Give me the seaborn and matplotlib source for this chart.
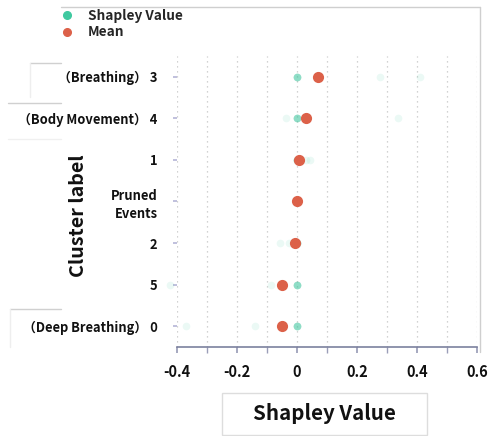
import numpy as np
import pandas as pd
import matplotlib
matplotlib.use("Agg")
import matplotlib.pyplot as plt
from matplotlib.lines import Line2D
from matplotlib.patches import Rectangle
from matplotlib.ticker import MultipleLocator
import seaborn as sns

# ===============================
# Data
# ===============================
cluster_labels = ['（Breathing） 3', '（Body Movement） 4', '1', 'Pruned\nEvents',
                  '2', '5', '（Deep Breathing） 0']

# individual Shapley values per cluster (10 samples each, most exactly 0)
shap_3 = [0.275, 0.41, 0, 0, 0, 0, 0, 0, 0, 0]
shap_4 = [-0.036, 0.335, 0, 0, 0, 0, 0, 0, 0, 0]
shap_1 = [0.03, 0.042, 0, 0, 0, 0, 0, 0, 0, 0]
shap_pruned = [0, 0, 0, 0, 0, 0, 0, 0, 0, 0]
shap_2 = [-0.057, -0.025, 0, 0, 0, 0, 0, 0, 0, 0]
shap_5 = [-0.423, -0.087, 0, 0, 0, 0, 0, 0, 0, 0]
shap_0 = [-0.37, -0.14, 0, 0, 0, 0, 0, 0, 0, 0]

shap_lists = [shap_3, shap_4, shap_1, shap_pruned, shap_2, shap_5, shap_0]

xticks = [-0.4, -0.2, 0, 0.2, 0.4, 0.6]
xtick_labels = ['-0.4', '-0.2', '0', '0.2', '0.4', '0.6']

rows = []
for lab, vals in zip(cluster_labels, shap_lists):
    for v in vals:
        rows.append({'cluster': lab, 'shap': v})
df = pd.DataFrame(rows)

teal = '#3fc9a0'
red = '#dc6149'
fonts = ['Noto Sans CJK JP', 'DejaVu Sans']

sns.set_theme(style='white')
plt.rcParams['font.family'] = fonts

fig = plt.figure(figsize=(4.94, 4.36), dpi=100)
ax = fig.add_axes([0.358, 0.204, 0.608, 0.668])

sns.stripplot(data=df, x='shap', y='cluster', order=cluster_labels, jitter=False,
              color=teal, alpha=0.1, size=5.5, linewidth=0, ax=ax, zorder=3)
for c in ax.collections:
    c.set_clip_on(False)

sns.pointplot(data=df, x='shap', y='cluster', order=cluster_labels, estimator='mean',
              errorbar=None, linestyle='none', color=red, markers='o',
              markersize=6, ax=ax, zorder=4)

ax.set_xlim(-0.4, 0.6)
ax.set_ylim(6.5, -0.5)
ax.xaxis.set_minor_locator(MultipleLocator(0.1))
ax.set_xticks(xticks)
ax.set_xticklabels(xtick_labels)
ax.grid(True, axis='x', which='both', color='#c4c4c4', linestyle=(0, (1, 3)), linewidth=0.9)
ax.set_axisbelow(True)

for s in ['left', 'top', 'right']:
    ax.spines[s].set_visible(False)
ax.spines['bottom'].set_color('#7c819e')
ax.spines['bottom'].set_linewidth(1.2)

ax.tick_params(axis='x', which='major', bottom=True, length=4, color='#9a9eb8', labelsize=10.5, pad=8)
ax.tick_params(axis='x', which='minor', bottom=True, length=4, color='#9a9eb8')
ax.tick_params(axis='y', left=True, length=3, color='#b8b8d8', labelsize=9.3, pad=11)
for t in ax.get_xticklabels() + ax.get_yticklabels():
    t.set_fontweight('bold')
    t.set_color('#111111')
for t in ax.get_yticklabels():
    t.set_linespacing(1.4)

ax.set_xlabel('')
ax.set_ylabel('')
fig.text(0.657, 0.052, 'Shapley Value', ha='center', va='center', fontsize=14.8,
         fontweight='bold', color='#111111')
fig.text(0.158, 0.505, 'Cluster label', ha='center', va='center', rotation=90,
         fontsize=14.2, fontweight='bold', color='#111111')

# legend
handles = [Line2D([], [], marker='o', linestyle='none', color=teal, markersize=5.5),
           Line2D([], [], marker='o', linestyle='none', color=red, markersize=5.5)]
leg = fig.legend(handles, ['Shapley Value', 'Mean'], loc='upper left',
                 bbox_to_anchor=(0.083, 1.008), frameon=False, handletextpad=0.55,
                 labelspacing=0.2, prop={'weight': 'bold', 'size': 9.8, 'family': fonts})

# faint framing lines and boxes seen in the reference
def fig_line(x0, y0, x1, y1, color):
    fig.add_artist(Line2D([x0 / 494, x1 / 494], [1 - y0 / 436, 1 - y1 / 436], color=color,
                          lw=1.0, transform=fig.transFigure))

fig_line(61, 7, 480, 7, '#cfcfcf')
fig_line(480, 7, 480, 352, '#cfcfcf')
fig_line(30, 63, 61, 63, '#d0d0d0')
fig_line(30, 63, 30, 97, '#eeeeee')
fig_line(8, 103, 61, 103, '#d0d0d0')
fig_line(8, 139, 61, 139, '#f0f0f0')
fig_line(10, 309, 61, 309, '#d0d0d0')
fig_line(10, 309, 10, 347, '#eeeeee')
fig.add_artist(Rectangle((222 / 494, 1 - 435 / 436), 205 / 494, 42 / 436, fill=False,
                         edgecolor='#dddddd', linewidth=1.0, transform=fig.transFigure))

fig.savefig('out.png', dpi=100)
